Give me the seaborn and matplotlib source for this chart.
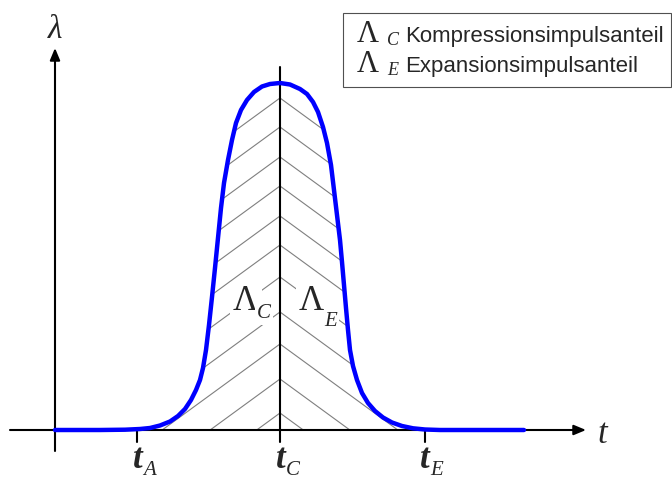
import numpy as np
import pandas as pd
import seaborn as sns
import matplotlib
matplotlib.use("Agg")
import matplotlib.pyplot as plt
from matplotlib.patches import Polygon, Rectangle

# Pulse curve lambda(t)
t_vals = [55, 100, 125, 140, 150, 160, 170, 178, 185, 191, 196, 200, 203, 206,
          209, 212, 215, 218, 221, 224, 228, 232, 236, 241, 247, 254, 262, 270,
          280, 290, 300, 307, 313, 318, 323, 327, 331, 334, 337, 340, 342, 344,
          346, 348, 350, 353, 357, 362, 368, 375, 383, 392, 402, 413, 425, 440, 524]
lam_vals = [0, 0, 0.3, 1, 2, 4.5, 8.5, 14, 21, 30, 40, 50, 62, 80,
            105, 133, 162, 192, 222, 247, 270, 290, 307, 320, 330, 338, 343.5, 346,
            347, 345.5, 341, 336, 328, 318, 303, 287, 265, 240, 215, 190, 168, 145,
            122, 100, 80, 64, 50, 37, 27, 19, 12.5, 7.5, 4, 1.7, 0.5, 0, 0]

# Characteristic instants on the time axis
t_A, t_C, t_E = 137, 280, 425
tick_subs = ["A", "C", "E"]

# Apex heights of the hatch lines on the t_C line
hatch_apex = [332, 303, 273, 244, 214, 185, 153, 118, 86, 51, 17]
hatch_slope = 0.73

legend_subs = ["C", "E"]
legend_texts = ["Kompressionsimpulsanteil", "Expansionsimpulsanteil"]

sns.set_style("white")
plt.rcParams["font.family"] = ["Liberation Sans", "DejaVu Sans"]

SERIF = "Liberation Serif"

fig = plt.figure(figsize=(6.72, 4.79), dpi=100)
ax = fig.add_axes([0, 0, 1, 1])
ax.set_xlim(0, 672)
ax.set_ylim(-49, 430)
ax.axis("off")

df = pd.DataFrame({"t": t_vals, "lam": lam_vals})

# Regions under the curve, split at t_C
left = df[df.t <= t_C]
right = df[df.t >= t_C]
left_poly = Polygon(list(zip(left.t, left.lam)) + [(t_C, 0), (left.t.iloc[0], 0)],
                    closed=True, facecolor="none", edgecolor="none",
                    transform=ax.transData)
right_poly = Polygon([(t_C, 0)] + list(zip(right.t, right.lam)) + [(right.t.iloc[-1], 0)],
                     closed=True, facecolor="none", edgecolor="none",
                     transform=ax.transData)
ax.add_patch(left_poly)
ax.add_patch(right_poly)

# Chevron hatching
span = 300
for a in hatch_apex:
    l1, = ax.plot([t_C, t_C - span], [a, a - hatch_slope * span],
                  color="#7f7f7f", lw=0.8, zorder=1)
    l1.set_clip_path(left_poly)
    l2, = ax.plot([t_C, t_C + span], [a, a - hatch_slope * span],
                  color="#7f7f7f", lw=0.8, zorder=1)
    l2.set_clip_path(right_poly)

# Axes with arrows
arrow = dict(arrowstyle="-|>,head_length=0.6,head_width=0.25", color="black",
             lw=1.5, mutation_scale=12, shrinkA=0, shrinkB=0)
ax.annotate("", xy=(586, 0), xytext=(10, 0), arrowprops=arrow, zorder=2)
ax.annotate("", xy=(55, 382), xytext=(55, -21), arrowprops=arrow, zorder=2)

# Vertical line at t_C and tick marks
ax.plot([t_C, t_C], [-12, 363], color="black", lw=1.5, zorder=2)
for tk in (t_A, t_E):
    ax.plot([tk, tk], [-12, 0], color="black", lw=1.5, zorder=2)

# The pulse
sns.lineplot(data=df, x="t", y="lam", sort=False, color="#0000FF",
             linewidth=3.2, ax=ax, zorder=4)
ax.axis("off")

# Axis labels
ax.text(55, 392, "λ", fontsize=24, family=SERIF, style="italic",
        ha="center", va="baseline")
ax.text(597, -13, "t", fontsize=25, family=SERIF, style="italic",
        ha="left", va="baseline")
for tk, sub, off in zip((t_A, t_C, t_E), tick_subs, (4, 4, 5)):
    ax.text(tk - off, -38, "t", fontsize=25, family=SERIF, style="italic",
            weight="bold", ha="left", va="baseline")
    ax.text(tk - off + 10, -45, sub, fontsize=15, family=SERIF, style="italic",
            ha="left", va="baseline")

# Area labels
box = dict(boxstyle="square,pad=0.1", facecolor="white", edgecolor="none")
ax.text(233, 120, "Λ", fontsize=25, family=SERIF, ha="left", va="baseline",
        bbox=box, zorder=3)
ax.text(257, 112, "C", fontsize=15, family=SERIF, style="italic",
        ha="left", va="baseline", bbox=box, zorder=3)
ax.text(299, 120, "Λ", fontsize=25, family=SERIF, ha="left", va="baseline",
        bbox=box, zorder=3)
ax.text(324, 104, "E", fontsize=15, family=SERIF, style="italic",
        ha="left", va="baseline", bbox=box, zorder=3)

# Legend box
ax.add_patch(Rectangle((343, 430 - 87), 328, 74, facecolor="white",
                       edgecolor="#505050", lw=0.8, zorder=5))
for i, (sub, txt) in enumerate(zip(legend_subs, legend_texts)):
    yb = 430 - 42 - 30 * i
    ax.text(357, yb, "Λ", fontsize=22, family=SERIF, ha="left",
            va="baseline", zorder=6)
    ax.text(387, yb - 3, sub, fontsize=13, family=SERIF, style="italic",
            ha="left", va="baseline", zorder=6)
    ax.text(405, yb, txt, fontsize=16, ha="left", va="baseline", zorder=6)

fig.savefig("out.png", dpi=100)
